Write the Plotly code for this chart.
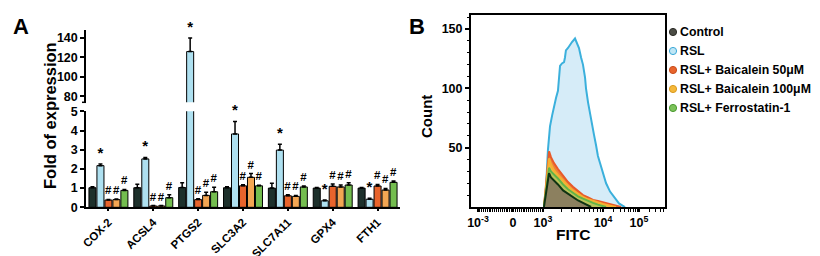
import math
import plotly.graph_objects as go

# ---------------- Panel A data ----------------
genes = ['COX-2', 'ACSL4', 'PTGS2', 'SLC3A2', 'SLC7A11', 'GPX4', 'FTH1']
groups = ['Control', 'RSL', 'RSL+ Baicalein 50μM', 'RSL+ Baicalein 100μM', 'RSL+ Ferrostatin-1']

ctrl_mean = [1.02, 1.02, 1.03, 1.02, 1.0, 1.0, 1.0]
ctrl_err = [0.05, 0.18, 0.25, 0.05, 0.25, 0.03, 0.03]
rsl_mean = [2.17, 2.52, 126.0, 3.82, 2.98, 0.34, 0.42]
rsl_err = [0.08, 0.08, 14.0, 0.65, 0.30, 0.04, 0.05]
b50_mean = [0.38, 0.07, 0.40, 1.12, 0.60, 1.09, 1.11]
b50_err = [0.03, 0.02, 0.04, 0.05, 0.05, 0.13, 0.08]
b100_mean = [0.40, 0.07, 0.62, 1.56, 0.57, 1.06, 0.90]
b100_err = [0.03, 0.02, 0.17, 0.20, 0.05, 0.10, 0.08]
ferro_mean = [0.88, 0.50, 0.81, 1.12, 1.06, 1.16, 1.30]
ferro_err = [0.05, 0.15, 0.23, 0.03, 0.05, 0.12, 0.07]

ctrl_sig = ['', '', '', '', '', '', '']
rsl_sig = ['*', '*', '*', '*', '*', '*', '*']
b50_sig = ['#', '#', '#', '#', '#', '#', '#']
b100_sig = ['#', '#', '#', '#', '#', '#', '#']
ferro_sig = ['#', '#', '#', '#', '#', '#', '#']

bar_colors = ['#1d302b', '#aee0f0', '#e8642c', '#f3a653', '#74bd4f']

low_ticks = [0, 1, 2, 3, 4, 5]
high_ticks = [80, 100, 120, 140]
low_range = [0, 5]
high_range = [73.8, 148.5]

# ---------------- Panel B data ----------------
fitc_tickvals = [37, 222, 380, 697, 886]
fitc_ticktext = ['10<sup>-3</sup>', '0', '10<sup>3</sup>', '10<sup>4</sup>', '10<sup>5</sup>']
count_ticks = [50, 100, 150]

rsl_x = [385, 396, 406, 417, 428, 438, 449, 459, 464, 470, 480, 491, 496, 501, 512, 523, 533,
         549, 559, 570, 581, 591, 602, 607, 618, 628, 639, 649, 660, 670, 681, 697, 713, 734,
         760, 781, 802, 813]
rsl_y = [0, 16, 48, 68, 77, 85, 92, 98, 112, 119, 121, 122, 126, 132, 134, 137, 139,
         142, 138, 134, 126, 120, 109, 100, 88, 78, 69, 61, 52, 43, 37, 29, 20, 13,
         8, 3, 1, 0]

b50_x = [385, 396, 406, 412, 422, 438, 459, 486, 512, 538, 565, 591, 618, 644, 670, 697, 723, 749, 776, 792]
b50_y = [0, 20, 43, 47, 42, 37, 32, 26, 21, 17, 13, 10, 8, 6, 5, 4, 2.5, 1.5, 0.5, 0]

b100_x = [385, 396, 406, 412, 422, 438, 459, 486, 512, 538, 565, 591, 618, 644, 670, 697, 723, 749, 765]
b100_y = [0, 18, 37, 41, 36, 31, 27, 22, 18, 14, 11, 8.5, 6.5, 5, 3.5, 2.5, 1.5, 0.5, 0]

ferro_x = [385, 396, 406, 412, 422, 438, 459, 486, 512, 538, 565, 591, 618, 644, 670, 697, 713]
ferro_y = [0, 14, 29, 33, 30, 27, 24, 19, 15, 12, 9, 7, 5, 3.5, 2, 0.5, 0]

ctrl_x = [385, 396, 406, 412, 422, 438, 459, 486, 512, 538, 565, 591, 618, 634]
ctrl_y = [0, 12, 25, 28.5, 25, 22, 19, 14, 11, 8, 5.5, 3.5, 1.5, 0]

FONT = 'Liberation Sans, Arial, Helvetica, sans-serif'

fig = go.Figure()

series = [
    (groups[0], ctrl_mean, ctrl_err, bar_colors[0], ctrl_sig),
    (groups[1], rsl_mean, rsl_err, bar_colors[1], rsl_sig),
    (groups[2], b50_mean, b50_err, bar_colors[2], b50_sig),
    (groups[3], b100_mean, b100_err, bar_colors[3], b100_sig),
    (groups[4], ferro_mean, ferro_err, bar_colors[4], ferro_sig),
]


def add_bar_set(yaxis, rng):
    for name, mean, err, color, sig in series:
        fig.add_trace(go.Bar(
            x=genes, y=mean, name=name, offsetgroup=name,
            marker=dict(color=color, line=dict(color='black', width=1)),
            error_y=dict(type='data', array=err, arrayminus=[0] * len(err), symmetric=False,
                         color='black', thickness=1.5, width=2),
            xaxis='x', yaxis=yaxis, showlegend=False, hoverinfo='skip'))
        keep = [i for i, (m, e, s) in enumerate(zip(mean, err, sig))
                if s and rng[0] < m + e < rng[1]]
        if not keep:
            continue
        size = 15 if sig[keep[0]] == '*' else 11.5
        fig.add_trace(go.Bar(
            x=[genes[i] for i in keep], y=[mean[i] + err[i] for i in keep],
            offsetgroup=name, text=[sig[i] for i in keep], textposition='outside',
            constraintext='none', cliponaxis=False,
            textfont=dict(family=FONT, size=size, color='black', weight='bold'),
            marker=dict(color='rgba(0,0,0,0)', line=dict(width=0)),
            xaxis='x', yaxis=yaxis, showlegend=False, hoverinfo='skip'))


add_bar_set('y', low_range)
add_bar_set('y2', high_range)

# Panel B histograms
hist = [
    ('RSL', rsl_x, rsl_y, '#3bb0dc', '#d6ecf8'),
    ('RSL+ Baicalein 50μM', b50_x, b50_y, '#e85a2a', '#ee7f3c'),
    ('RSL+ Baicalein 100μM', b100_x, b100_y, '#f5b031', '#f4b443'),
    ('RSL+ Ferrostatin-1', ferro_x, ferro_y, '#62b446', '#b8c25a'),
    ('Control', ctrl_x, ctrl_y, '#0f3312', '#8c805f'),
]
for name, xs, ys, lc, fc in hist:
    fig.add_trace(go.Scatter(x=xs, y=ys, mode='lines', fill='tozeroy', fillcolor=fc,
                             line=dict(color=lc, width=2), name=name,
                             xaxis='x3', yaxis='y3', showlegend=False, hoverinfo='skip'))

W, H = 820, 256


def px(x):
    return x / W


def py(y):
    return 1 - y / H


def axis_style(size=12, lw=1.5, tl=4):
    return dict(showline=True, linecolor='black', linewidth=lw, ticks='outside',
                ticklen=tl, tickwidth=1.5, tickcolor='black', showgrid=False, zeroline=False,
                tickfont=dict(family=FONT, size=size, color='black', weight='bold'))


# minor ticks for FITC axis (display channels)
minor_x = list(range(45, 372, 10))
for a, b in [(380, 697), (697, 886)]:
    for k in range(2, 10):
        minor_x.append(a + (b - a) * math.log10(k))
for k in range(2, 6):
    minor_x.append(886 + (886 - 697) * math.log10(k))
minor_y = [v for v in range(10, 161, 10) if v % 50 != 0]

fig.update_layout(
    width=W, height=H, margin=dict(l=0, r=0, t=0, b=0),
    paper_bgcolor='white', plot_bgcolor='white', template='none',
    barmode='group', bargap=0.11, bargroupgap=0.12, showlegend=False,
    font=dict(family=FONT, color='black', weight='bold'),
    xaxis=dict(domain=[px(78), px(392)], anchor='y', type='category', tickangle=-45,
               **axis_style(size=11.5, tl=2)),
    yaxis=dict(domain=[py(199.3), py(103.3)], anchor='x', range=low_range,
               tickvals=low_ticks, **axis_style(size=12.5)),
    yaxis2=dict(domain=[py(94.3), py(21.7)], anchor='x', range=high_range,
                tickvals=high_ticks, **axis_style(size=12.5)),
    xaxis3=dict(domain=[px(463), px(657)], anchor='y3', range=[0, 1024],
                tickvals=fitc_tickvals, ticktext=fitc_ticktext, mirror=True,
                minor=dict(tickmode='array', tickvals=minor_x, ticklen=2.5, tickwidth=1,
                           tickcolor='black', ticks='outside'),
                **axis_style(size=12.5, lw=2, tl=3)),
    yaxis3=dict(domain=[py(199), py(7)], anchor='x3', range=[0, 161.8],
                tickvals=count_ticks, mirror=True,
                minor=dict(tickmode='array', tickvals=minor_y, ticklen=2.5, tickwidth=1,
                           tickcolor='black', ticks='outside'),
                **axis_style(size=12.5, lw=2)),
)

ann = []
ann.append(dict(text='A', x=px(3), y=py(4), xanchor='left', yanchor='top',
                font=dict(size=22, family=FONT, weight='bold')))
ann.append(dict(text='B', x=px(399), y=py(4), xanchor='left', yanchor='top',
                font=dict(size=22, family=FONT, weight='bold')))
ann.append(dict(text='Fold of expression', x=px(42), y=py(108), textangle=-90,
                xanchor='center', yanchor='middle', font=dict(size=16.5, family=FONT, weight='bold')))
ann.append(dict(text='Count', x=px(418), y=py(109), textangle=-90,
                xanchor='center', yanchor='middle', font=dict(size=15, family=FONT, weight='bold')))
ann.append(dict(text='FITC', x=px(565), y=py(226), xanchor='center', yanchor='middle',
                font=dict(size=15.5, family=FONT, weight='bold')))

legend_rows = [24, 43, 62, 81, 100]
legend_fill = ['#4b4c45', '#bfe6f5', '#e8642c', '#f5b83a', '#7cc25a']
legend_line = ['#2b2b26', '#3aa8d8', '#c84d1c', '#d99a1e', '#4a9a30']
shapes = []
for name, row, fc, lc in zip(groups, legend_rows, legend_fill, legend_line):
    ann.append(dict(text=name, x=px(669.5), y=py(row), xanchor='left', yanchor='middle',
                    font=dict(size=12.3, family=FONT, weight='bold')))
    shapes.append(dict(type='circle', xref='paper', yref='paper',
                       x0=px(665 - 3.6), x1=px(665 + 3.6), y0=py(row + 3.6), y1=py(row - 3.6),
                       fillcolor=fc, line=dict(color=lc, width=1)))

# axis-break mark on the upper segment
shapes.append(dict(type='line', xref='paper', yref='paper', x0=px(74), x1=px(78),
                   y0=py(94.3), y1=py(94.3), line=dict(color='black', width=1.5)))

for a in ann:
    a.update(xref='paper', yref='paper', showarrow=False)
fig.update_layout(annotations=ann, shapes=shapes)

fig.write_html('out.html')
